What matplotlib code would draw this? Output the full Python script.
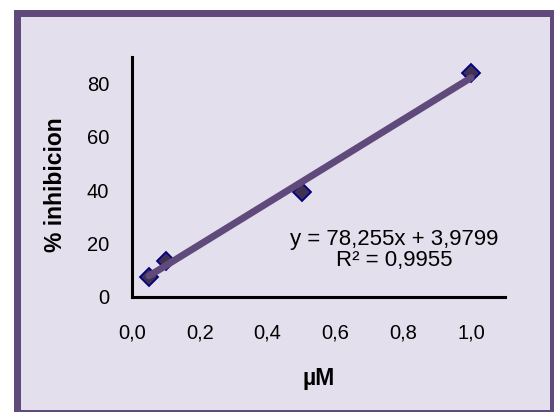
import matplotlib.pyplot as plt
from matplotlib.patches import Rectangle

# data
conc = [0.05, 0.1, 0.5, 1.0]
inhib = [7.5, 13.5, 39.5, 84.0]
slope = 78.255
intercept = 3.9799
eq_text = "y = 78,255x + 3,9799\nR² = 0,9955"
xticks = [0.0, 0.2, 0.4, 0.6, 0.8, 1.0]
xtick_labels = ["0,0", "0,2", "0,4", "0,6", "0,8", "1,0"]
yticks = [0, 20, 40, 60, 80]

plt.rcParams['font.family'] = ['Liberation Sans', 'DejaVu Sans']

W, H = 554, 412
fig = plt.figure(figsize=(W / 100, H / 100), dpi=100)
fig.patch.set_facecolor('white')

# chart area background + border (border partly runs off the image)
bw = 7
l, r, t, b = 17.25, 552.5, 12.5, 412.5
fig.patches.append(Rectangle((l / W, 1 - b / H), (r - l) / W, (b - t) / H,
                             transform=fig.transFigure, facecolor='#E4DFEC',
                             edgecolor='#604A7B', linewidth=bw * 0.72, zorder=-10))

ax = fig.add_axes([132 / W, 1 - 297 / H, (505 - 132) / W, (297 - 57) / H])
ax.set_facecolor('none')
ax.set_zorder(5)

ax.plot(conc, inhib, linestyle='none', marker='D', markersize=9.5,
        markerfacecolor='#3F3151', markeredgecolor='#000080',
        markeredgewidth=1.3, zorder=2, clip_on=False)

xfit = [min(conc), max(conc)]
yfit = [slope * v + intercept for v in xfit]
ax.plot(xfit, yfit, color='#604A7B', linewidth=5, solid_capstyle='round', zorder=3)

ax.text(0.772, 17.6, eq_text, ha='center', va='center', fontsize=16,
        linespacing=1.05, color='black')

ax.set_xlim(0, 1.1)
ax.set_ylim(0, 90)
ax.set_xticks(xticks)
ax.set_xticklabels(xtick_labels)
ax.set_yticks(yticks)
ax.tick_params(length=0, labelsize=14.5)
ax.tick_params(axis='x', pad=19)
ax.tick_params(axis='y', pad=16.5)

for s in ['top', 'right']:
    ax.spines[s].set_visible(False)
for s in ['left', 'bottom']:
    ax.spines[s].set_linewidth(2.2)
    ax.spines[s].set_color('black')

ax.set_xlabel('µM', fontsize=16.5, fontweight='bold', labelpad=18)
ax.set_ylabel('% inhibicion', fontsize=16.5, fontweight='bold')
ax.yaxis.set_label_coords(-0.175, 0.47)

fig.savefig('out.png', dpi=100)
